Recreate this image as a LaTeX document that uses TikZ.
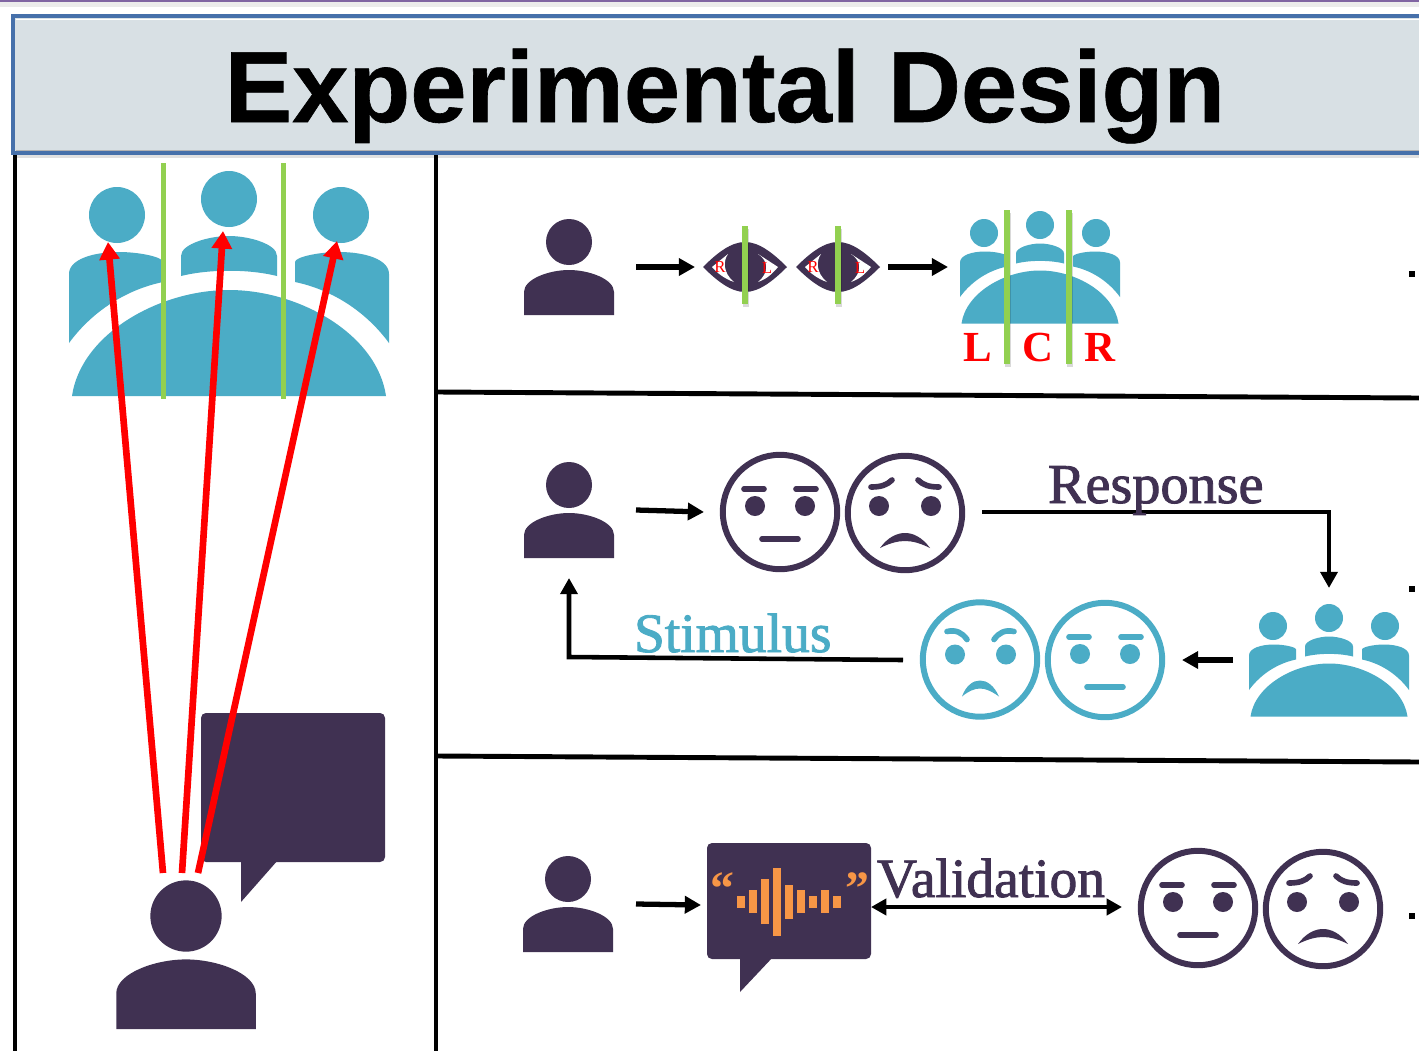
\documentclass[tikz,border=0pt]{standalone}
\usepackage{fontspec}
\setmainfont{Liberation Serif}
\newfontfamily\titlefont[FakeBold=0.6]{Liberation Sans Bold}
\newfontfamily\labelfont[FakeBold=1.6]{Liberation Serif}
\usetikzlibrary{arrows.meta}
\definecolor{dark}{HTML}{403152}
\definecolor{teal}{HTML}{4BACC6}
\definecolor{leaf}{HTML}{92D050}
\definecolor{wave}{HTML}{F79646}
\definecolor{topline}{RGB}{128,100,162}
\definecolor{titlefill}{RGB}{216,224,228}
\definecolor{titleedge}{RGB}{70,112,170}
\tikzset{
 blackline/.style={draw=black,line width=7pt},
 arrowline/.style={draw=black,line width=7.5pt,-{Triangle[length=23pt,width=24pt]}},
 redarrow/.style={draw=red,line width=9.5pt,-{Triangle[length=25pt,width=28pt]}},
 greenbar/.style={draw=leaf,line width=8.5pt},
 barshadow/.style={draw=black,opacity=.15,line width=8.5pt},
 txt/.style={inner sep=0pt,outer sep=0pt},
 person/.pic={
  \fill[dark] (0,0) circle (23);
  \fill[dark] (-45,73) -- (-45,50) .. controls (-45,37) and (-20,28) .. (0,28) .. controls (20,28) and (45,37) .. (45,50) -- (45,73) -- cycle;
 },
 group/.pic={
  \fill[teal] (-112,16) circle (28) (0,0) circle (28) (112,16) circle (28);
  \fill[teal] (-157,197) .. controls (-148,135) and (-70,91) .. (0,91) .. controls (70,91) and (148,135) .. (157,197) -- cycle;
  \fill[teal] (-160,144) -- (-160,75) .. controls (-160,60) and (-135,53) .. (-110,53) .. controls (-90,53) and (-66,58) .. (-66,63) -- (-66,83) .. controls (-100,90) and (-135,110) .. (-160,144) -- cycle;
  \fill[teal] (160,144) -- (160,75) .. controls (160,60) and (135,53) .. (110,53) .. controls (90,53) and (66,58) .. (66,63) -- (66,83) .. controls (100,90) and (135,110) .. (160,144) -- cycle;
  \fill[teal] (-48,77) -- (-48,57) .. controls (-48,45) and (-20,37) .. (0,37) .. controls (20,37) and (48,45) .. (48,57) -- (48,77) .. controls (20,70) and (-20,70) .. (-48,77) -- cycle;
 },
 neutralface/.pic={
  \draw[line width=8.5pt,pic actions] (0,0) circle (57.2);
  \fill[pic actions] (-25,-6) circle (10) (25,-6) circle (10);
  \draw[line width=8pt,line cap=round,pic actions] (-36,-23) -- (-16,-23) (16,-23) -- (36,-23);
  \draw[line width=8pt,line cap=round,pic actions] (-18,27) -- (18,27);
 },
 sadface/.pic={
  \draw[line width=8.5pt,pic actions] (0,0) circle (57.2);
  \fill[pic actions] (-26,-7) circle (10) (26,-7) circle (10);
  \draw[line width=8pt,line cap=round,pic actions] (-34,-26) .. controls (-24,-26) and (-18,-28) .. (-13,-33) (34,-26) .. controls (24,-26) and (18,-28) .. (13,-33);
  \fill[pic actions] (-25,35) .. controls (-17,24) and (-8,20) .. (0,20) .. controls (8,20) and (17,24) .. (25,35) .. controls (15,30) and (7,28) .. (0,28) .. controls (-7,28) and (-15,30) .. (-25,35) -- cycle;
 },
 angryface/.pic={
  \draw[line width=8.5pt,pic actions] (0,0) circle (57.2);
  \fill[pic actions] (-25,-5) circle (10) (26,-5) circle (10);
  \draw[line width=8pt,line cap=round,pic actions] (-33,-28) .. controls (-24,-30) and (-18,-27) .. (-13,-20) (34,-28) .. controls (25,-30) and (19,-27) .. (14,-20);
  \fill[pic actions] (-18,37) .. controls (-14,26) and (-7,21) .. (0,21) .. controls (7,21) and (14,26) .. (19,37) .. controls (12,32) and (6,29) .. (0,29) .. controls (-6,29) and (-12,32) .. (-18,37) -- cycle;
 },
 eye/.pic={
  \fill[dark] (-42,0) .. controls (-28,-14) and (-14,-25) .. (0,-25) .. controls (14,-25) and (28,-14) .. (42,0) .. controls (28,14) and (14,25) .. (0,25) .. controls (-14,25) and (-28,14) .. (-42,0) -- cycle;
  \fill[white] (-33,0) -- (-17,-13) .. controls (-22,-6) and (-22,6) .. (-11,15) .. controls (-20,12) and (-28,6) .. (-33,0) -- cycle;
  \fill[white] (33,0) -- (13,-13) .. controls (24,-6) and (24,6) .. (13,15) .. controls (22,12) and (28,6) .. (33,0) -- cycle;
  \node[txt,text=red,font=\fontsize{24}{24}\selectfont] at (-25,0) {R};
  \node[txt,text=red,font=\fontsize{24}{24}\selectfont] at (22,1) {L};
 }
}
\begin{document}
\begin{tikzpicture}[x=0.05cm,y=-0.05cm]
\clip (0,0) rectangle (1419,1051);
\fill[white] (0,0) rectangle (1419,1051);
\fill[black!8] (0,2) rectangle (1419,7);
\fill[topline] (0,0) rectangle (1419,1.5);
% coordinates
\coordinate (leftT) at (15,155); \coordinate (leftB) at (15,1051);
\coordinate (midT) at (436,155); \coordinate (midB) at (436,1051);
\coordinate (h1a) at (438,392); \coordinate (h1b) at (1419,398);
\coordinate (h2a) at (438,756); \coordinate (h2b) at (1419,762);
% title
\fill[black!12] (16,153) rectangle (1419,158);
\draw[fill=titlefill,draw=titleedge,line width=4.5pt] (13,16) rectangle (1440,153);
\draw[white,line width=1.6pt] (16,19.5) -- (1419,19.5);
\draw[black!30,line width=1.6pt] (16,150.5) -- (1419,150.5);
\node[txt,anchor=base,font=\titlefont\fontsize{143.9}{143.9}\selectfont] (title) at (725,122) {Experimental Design};
% frame
\draw[blackline] (leftT) -- (leftB);
\draw[blackline] (midT) -- (midB);
\draw[blackline] (h1a) -- (h1b);
\draw[blackline] (h2a) -- (h2b);
% left column
\pic (biggroup) at (229,199) {group};
\foreach \x/\n in {163.5/a,283.5/b}{
 \coordinate (bg\n t) at (\x,163); \coordinate (bg\n b) at (\x,399);
 \draw[greenbar] (bg\n t) -- (bg\n b);
}
\fill[dark,rounded corners=7] (201,713) rectangle (385,862);
\fill[dark] (241,860) -- (241,902) -- (278,860) -- cycle;
\pic[scale=1.55] (bigperson) at (186,916) {person};
\coordinate (r1a) at (163,873); \coordinate (r1b) at (108,242);
\coordinate (r2a) at (182,873); \coordinate (r2b) at (223,231);
\coordinate (r3a) at (198,873); \coordinate (r3b) at (337,241);
\draw[redarrow] (r1a) -- (r1b);
\draw[redarrow] (r2a) -- (r2b);
\draw[redarrow] (r3a) -- (r3b);
% row 1
\pic (p1) at (569,242) {person};
\coordinate (a1s) at (636,267); \coordinate (a1e) at (695,267);
\draw[arrowline] (a1s) -- (a1e);
\pic (eye1) at (745,267) {eye};
\pic (eye2) at (838,267) {eye};
\foreach \x/\n in {745/e,838/f}{
 \coordinate (bg\n t) at (\x,226); \coordinate (bg\n b) at (\x,304);
 \draw[barshadow] ([shift={(1,3)}]bg\n t) -- ([shift={(1,3)}]bg\n b);
 \draw[greenbar] (bg\n t) -- (bg\n b);
}
\coordinate (a2s) at (888,267); \coordinate (a2e) at (948,267);
\draw[arrowline] (a2s) -- (a2e);
\pic[scale=0.5] (g1) at (1040,225) {group};
\foreach \x/\n in {1007/c,1069/d}{
 \coordinate (bg\n t) at (\x,210); \coordinate (bg\n b) at (\x,364);
 \draw[barshadow] ([shift={(1,3)}]bg\n t) -- ([shift={(1,3)}]bg\n b);
 \draw[greenbar] (bg\n t) -- (bg\n b);
}
\foreach \x/\t in {978/L,1038/C,1100/R}{
 \node[txt,anchor=base,text=red,font=\bfseries\fontsize{61}{61}\selectfont] (lab\t) at (\x,361) {\t};
}
% row 2
\pic (p2) at (569,485) {person};
\coordinate (a3s) at (636,510); \coordinate (a3e) at (704,512);
\draw[arrowline] (a3s) -- (a3e);
\pic[color=dark] (f1) at (780,512) {neutralface};
\pic[color=dark] (f2) at (905,513) {sadface};
\coordinate (resS) at (982,512); \coordinate (resM) at (1329,512); \coordinate (resE) at (1329,588);
\draw[arrowline,line width=6.5pt] (resS) -- (resM) -- (resE);
\node[txt,anchor=base west,text=dark,font=\labelfont\fontsize{80}{80}\selectfont] (resp) at (1048,503) {Response};
\pic[scale=0.5] (g2) at (1329,618) {group};
\coordinate (a4s) at (1233,660); \coordinate (a4e) at (1182,660);
\draw[arrowline] (a4s) -- (a4e);
\pic[color=teal] (f3) at (980,659.5) {angryface};
\pic[color=teal] (f4) at (1105,660) {neutralface};
\coordinate (stS) at (903,660); \coordinate (stM) at (569,657); \coordinate (stE) at (569,578);
\draw[arrowline,line width=6.5pt] (stS) -- (stM) -- (stE);
\node[txt,anchor=base west,text=teal,font=\labelfont\fontsize{79}{79}\selectfont] (stim) at (634,652) {Stimulus};
% row 3
\pic (p3) at (568,879) {person};
\coordinate (a5s) at (636,904); \coordinate (a5e) at (701,905);
\draw[arrowline] (a5s) -- (a5e);
\fill[dark,rounded corners=7] (707,843) rectangle (871,959);
\fill[dark] (740,957) -- (740,992) -- (773,957) -- cycle;
\foreach \x/\a/\b in {741/896/908,753/890/913,765/879/924,777/868/936,789/885/919,801/890/913,813/896/908,825/890/913,837/896/908}{
 \fill[wave] (\x-4,\a) rectangle (\x+4,\b);
}
\node[txt,anchor=base,text=wave,font=\bfseries\fontsize{68}{68}\selectfont] (q1) at (722,904) {“};
\node[txt,anchor=base,text=wave,font=\bfseries\fontsize{68}{68}\selectfont] (q2) at (857,904) {”};
\coordinate (vS) at (871,907); \coordinate (vE) at (1122,907);
\draw[draw=black,line width=5.5pt,{Triangle[length=22pt,width=23pt]}-{Triangle[length=22pt,width=23pt]}] (vS) -- (vE);
\node[txt,anchor=base west,text=dark,font=\labelfont\fontsize{78.9}{78.9}\selectfont] (valid) at (877,897) {Validation};
\pic[color=dark] (f5) at (1198,908) {neutralface};
\pic[color=dark] (f6) at (1323,909) {sadface};
% right edge dots
\fill[black] (1409,271) rectangle (1415,277);
\fill[black] (1409,586) rectangle (1415,592);
\fill[black] (1409,913) rectangle (1415,919);
\end{tikzpicture}
\end{document}
